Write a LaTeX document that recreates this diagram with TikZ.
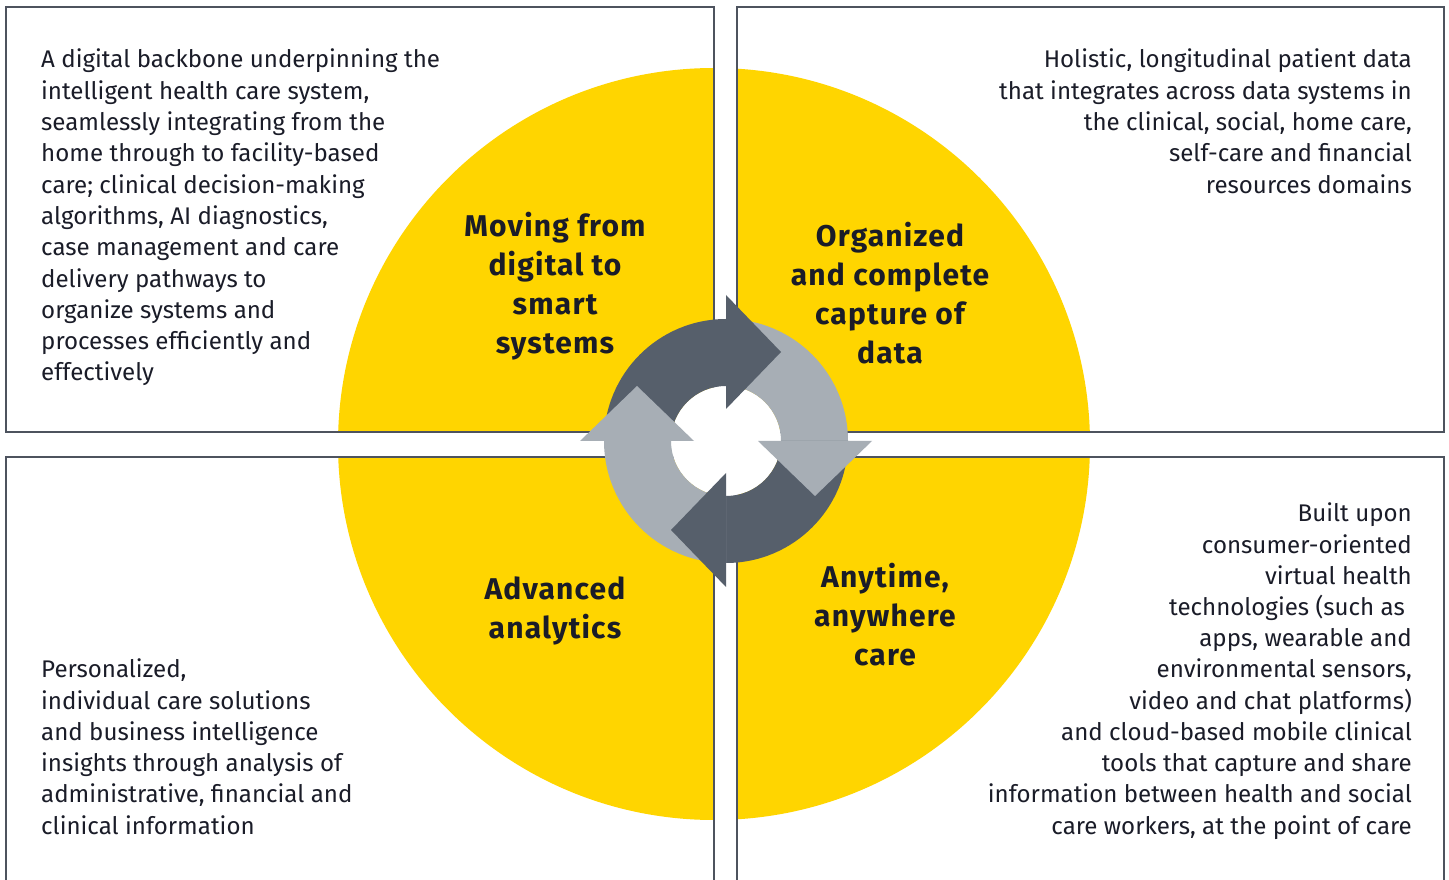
\documentclass[tikz,border=0pt]{standalone}
\usepackage{fontspec}
\setmainfont{Fira Sans}
\usetikzlibrary{calc}
\definecolor{eyyellow}{HTML}{FFD500}
\definecolor{eytext}{HTML}{1A1C28}
\definecolor{eyborder}{HTML}{4D535E}
\definecolor{arrdark}{HTML}{565F6B}
\definecolor{arrlight}{HTML}{A7AEB5}
\tikzset{
  bodyL/.style={anchor=base west, inner sep=0pt, text=eytext, font=\fontsize{24.1}{31}\selectfont},
  bodyR/.style={anchor=base east, inner sep=0pt, text=eytext, font=\fontsize{24.1}{31}\selectfont},
  titletext/.style={anchor=base, inner sep=0pt, text=eytext, font=\fontsize{30}{39}\selectfont\bfseries\addfontfeature{LetterSpace=4}},
  boxline/.style={draw=eyborder, line width=1.5pt},
}
\begin{document}
\begin{tikzpicture}[x=1pt,y=1pt]
\useasboundingbox (0,0) rectangle (1449,879);
\fill[white] (0,0) rectangle (1449,879);
% yellow disk
\fill[eyyellow] (714,435) circle (376pt);
% white gaps
\fill[white] (714,0) rectangle (737,879);
\fill[white] (0,422) rectangle (1449,447);
% boxes
\draw[boxline] (6,872) rectangle (714,447);
\draw[boxline] (737,872) rectangle (1444,447);
\draw[boxline] (6,-2) -- (6,422) -- (714,422) -- (714,-2);
\draw[boxline] (737,-2) -- (737,422) -- (1444,422) -- (1444,-2);
% cycle
\coordinate (C) at (726,438);
\fill[white] (C) circle (55pt);
\foreach \a/\col in {180/arrdark, 90/arrlight, 0/arrdark, -90/arrlight}{
  \fill[\col] ($(C)+(\a:122pt)$) arc[start angle=\a, end angle=\a-90, radius=122pt]
     -- ($(C)+(\a-90:55pt)$) arc[start angle=\a-90, end angle=\a, radius=55pt] -- cycle;
}
\foreach \a/\col in {90/arrdark, 0/arrlight, -90/arrdark, 180/arrlight}{
  \fill[\col] ($(C)+(\a:32pt)$) -- ($(C)+(\a:146pt)$) -- ($(C)+(\a:89pt)+(\a-90:55pt)$) -- cycle;
}
% top-left text
\foreach \t [count=\i] in {A digital backbone underpinning the, {intelligent health care system,}, seamlessly integrating from the, home through to facility-based, care; clinical decision-making, {algorithms, AI diagnostics,}, case management and care, delivery pathways to, organize systems and, processes efficiently and, effectively}
  \node[bodyL] (tl\i) at (41,{811-(\i-1)*31.3}) {\t};
% top-right text
\foreach \t [count=\i] in {{Holistic, longitudinal patient data}, that integrates across data systems in, {the clinical, social, home care,}, self-care and financial, resources domains}
  \node[bodyR] (tr\i) at (1412,{811-(\i-1)*31.3}) {\t};
% bottom-left text
\foreach \t [count=\i] in {{Personalized,}, individual care solutions, and business intelligence, insights through analysis of, {administrative, financial and}, clinical information}
  \node[bodyL] (bl\i) at (41,{201-(\i-1)*31.2}) {\t};
% bottom-right text
\foreach \t [count=\i] in {Built upon, consumer-oriented, virtual health, technologies (such as\hspace*{7pt}, {apps, wearable and}, {environmental sensors,}, video and chat platforms), and cloud-based mobile clinical, tools that capture and share, information between health and social, {care workers, at the point of care}}
  \node[bodyR] (br\i) at (1412,{357-(\i-1)*31.2}) {\t};
% titles
\foreach \t [count=\i] in {Moving from, digital to, smart, systems}
  \node[titletext] (ta\i) at (555,{642-(\i-1)*39}) {\t};
\foreach \t [count=\i] in {Organized, and complete, capture of, data}
  \node[titletext] (tb\i) at (890,{632-(\i-1)*39}) {\t};
\foreach \t [count=\i] in {Advanced, analytics}
  \node[titletext] (tc\i) at (555,{279-(\i-1)*39}) {\t};
\foreach \t [count=\i] in {{Anytime,}, anywhere, care}
  \node[titletext] (td\i) at (885,{291-(\i-1)*39}) {\t};
\end{tikzpicture}
\end{document}
